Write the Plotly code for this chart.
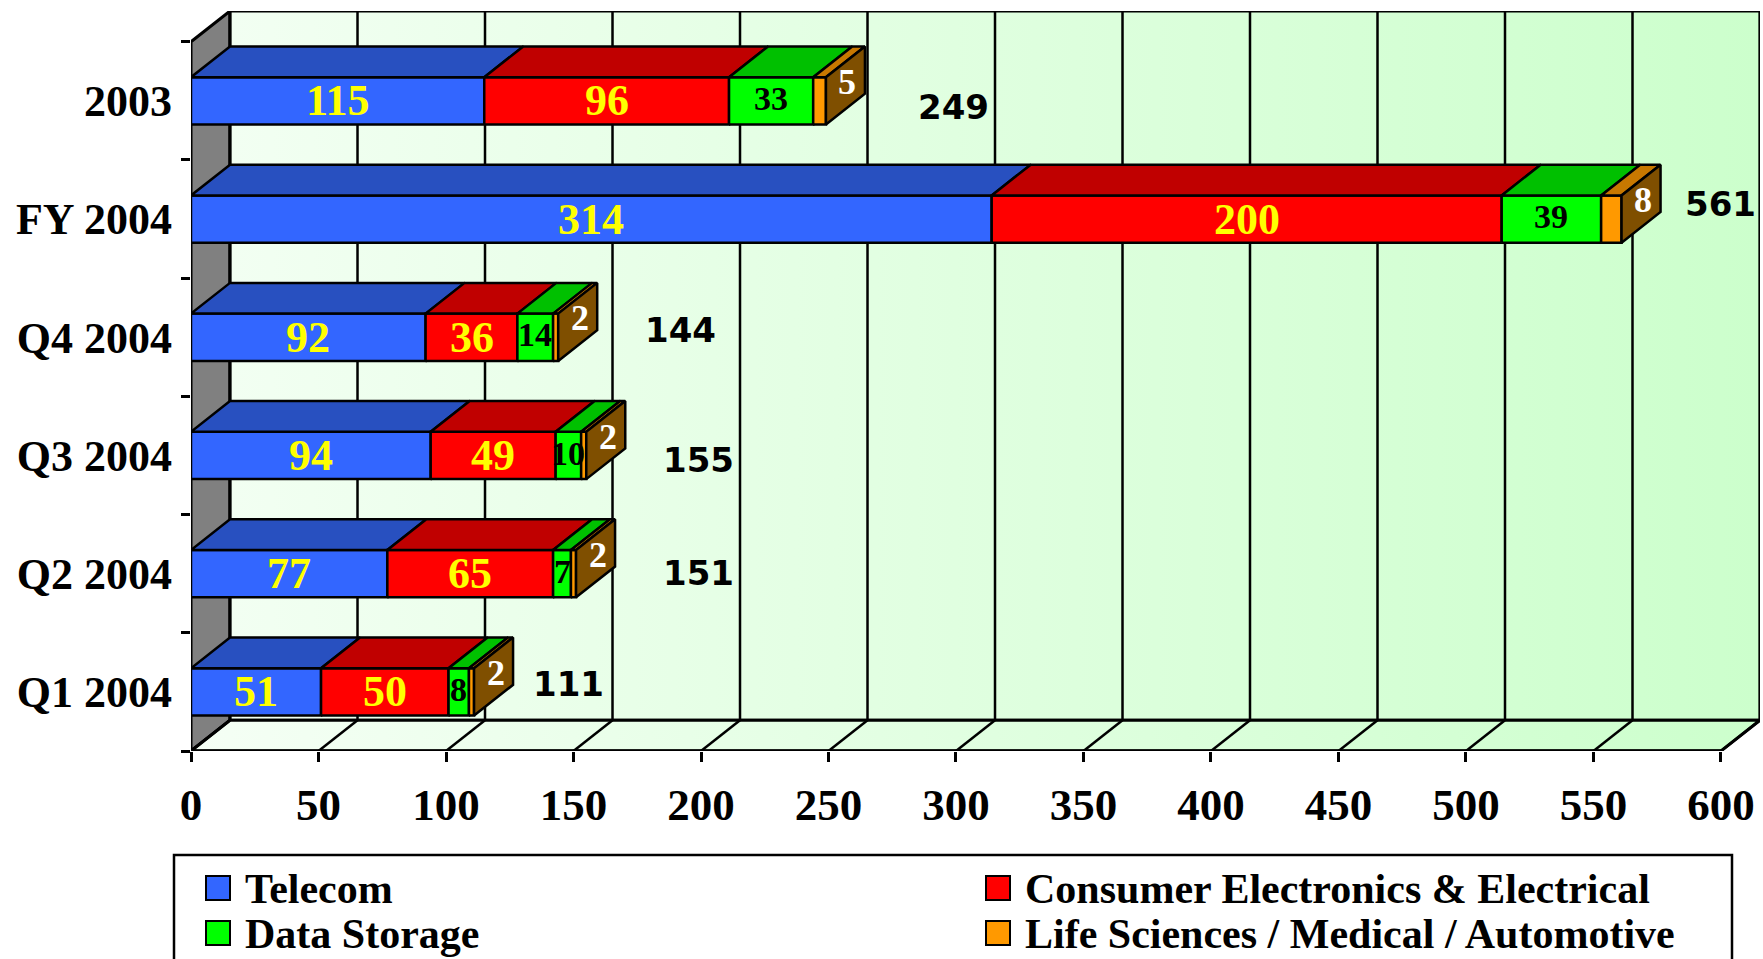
import plotly.graph_objects as go

# ---------------- data ----------------
categories = ["Q1 2004", "Q2 2004", "Q3 2004", "Q4 2004", "FY 2004", "2003"]
series_names = ["Telecom", "Consumer Electronics & Electrical",
                "Data Storage", "Life Sciences / Medical / Automotive"]
telecom = [51, 77, 94, 92, 314, 115]
consumer = [50, 65, 49, 36, 200, 96]
storage = [8, 7, 10, 14, 39, 33]
life = [2, 2, 2, 2, 8, 5]
totals = [111, 151, 155, 144, 561, 249]
x_ticks = [0, 50, 100, 150, 200, 250, 300, 350, 400, 450, 500, 550, 600]

# total label placement (offsets from bar end / centre)
total_dx = [37, 48, 44, 48, 39, 50]
total_dy = [0.07, 0.01, -0.04, 0.06, 0.13, -0.05]

# ---------------- style ----------------
W, HGT = 1763, 959
ML, MR, MT, MB = 191, 3, 11, 208
DX, DY, H = 15.3, 0.26, 0.2
XMAX = 600
n = len(categories)
Y0, Y1 = -0.5, n - 0.5

front_colors = ["#3366FF", "#FF0000", "#00FF00", "#FF9900"]
top_colors = ["#2850C0", "#C00000", "#00C000", "#C87800"]
side_color = "#7F4F00"
label_colors = ["#FFFF00", "#FFFF00", "black", "white"]
SERIF = "Liberation Serif"
SANS = "DejaVu Sans"

fig = go.Figure()


def poly(xs, ys, color=None, lw=2.5, grad=None):
    kw = dict(x=list(xs) + [xs[0]], y=list(ys) + [ys[0]], mode="lines",
              fill="toself", line=dict(color="black", width=lw),
              hoverinfo="skip", showlegend=False)
    if grad is not None:
        kw["fillgradient"] = grad
    else:
        kw["fillcolor"] = color
    fig.add_trace(go.Scatter(**kw))


# walls
poly([0, 0, DX, DX], [Y0, Y1, Y1 + DY, Y0 + DY], "#808080", lw=3)
poly([DX, XMAX + DX, XMAX + DX, DX], [Y0 + DY, Y0 + DY, Y1 + DY, Y1 + DY],
     lw=3, grad=dict(type="horizontal",
                     colorscale=[[0, "#F2FFF2"], [1, "#CCFFCC"]]))
poly([0, XMAX, XMAX + DX, DX], [Y0, Y0, Y0 + DY, Y0 + DY],
     lw=3, grad=dict(type="horizontal",
                     colorscale=[[0, "#F5FFF5"], [1, "#CCFFCC"]]))

# grid lines on back wall and floor
gx, gy = [], []
for v in x_ticks:
    gx += [v + DX, v + DX, None, v, v + DX, None]
    gy += [Y0 + DY, Y1 + DY, None, Y0, Y0 + DY, None]
fig.add_trace(go.Scatter(x=gx, y=gy, mode="lines",
                         line=dict(color="black", width=2.5),
                         hoverinfo="skip", showlegend=False))
# front floor edge
fig.add_trace(go.Scatter(x=[0, XMAX], y=[Y0, Y0], mode="lines",
                         line=dict(color="black", width=3.5),
                         hoverinfo="skip", showlegend=False))

# bars
series = [telecom, consumer, storage, life]
annotations = []
for c in range(n):
    s = 0
    for k, vals in enumerate(series):
        v = vals[c]
        e = s + v
        poly([s, e, e, s], [c - H, c - H, c + H, c + H], front_colors[k], lw=2.5)
        poly([s, e, e + DX, s + DX], [c + H, c + H, c + H + DY, c + H + DY],
             top_colors[k], lw=2.5)
        if k < 2:
            annotations.append(dict(x=(s + e) / 2, y=c, text=str(v), showarrow=False,
                                    font=dict(family=SERIF, size=44, color=label_colors[k],
                                              weight="bold"),
                                    xref="x", yref="y"))
        elif k == 2:
            annotations.append(dict(x=(s + e) / 2, y=c + 0.02, text=str(v), showarrow=False,
                                    font=dict(family=SERIF, size=34, color=label_colors[k],
                                              weight="bold"),
                                    xref="x", yref="y"))
        s = e
    # right side face
    poly([s, s + DX, s + DX, s], [c - H, c - H + DY, c + H + DY, c + H], side_color, lw=2.5)
    annotations.append(dict(x=s + DX * 0.55, y=c + 0.16, text=str(life[c]), showarrow=False,
                            font=dict(family=SERIF, size=36, color="white", weight="bold"),
                            xref="x", yref="y"))
    annotations.append(dict(x=totals[c] + total_dx[c], y=c + total_dy[c], text=str(totals[c]),
                            showarrow=False,
                            font=dict(family=SANS, size=34, color="black", weight="bold"),
                            xref="x", yref="y"))

# dummy trace for boundary-tick axis
fig.add_trace(go.Scatter(x=[0], y=[0], yaxis="y2", mode="markers",
                         marker=dict(opacity=0), hoverinfo="skip", showlegend=False))

# ---------------- manual legend ----------------
PW = W - ML - MR
PH = HGT - MT - MB


def px(x):
    return (x - ML) / PW


def py(y):
    return (HGT - MB - y) / PH


shapes = [dict(type="rect", xref="paper", yref="paper",
               x0=px(174), x1=px(1732), y0=py(985), y1=py(855),
               line=dict(color="black", width=2.5), fillcolor="white", layer="above")]
leg_pos = [(206, 888), (986, 888), (206, 933), (986, 933)]
for k, name in enumerate(series_names):
    lx, ly = leg_pos[k]
    shapes.append(dict(type="rect", xref="paper", yref="paper",
                       x0=px(lx), x1=px(lx + 24), y0=py(ly + 12), y1=py(ly - 12),
                       line=dict(color="black", width=2), fillcolor=front_colors[k],
                       layer="above"))
    annotations.append(dict(x=px(lx + 37), y=py(ly + 1), xref="paper", yref="paper",
                            text=name, showarrow=False, xanchor="left", yanchor="middle",
                            font=dict(family=SERIF, size=42, color="black", weight="bold")))

fig.update_layout(
    width=W, height=HGT, autosize=False,
    margin=dict(l=ML, r=MR, t=MT, b=MB, pad=0),
    paper_bgcolor="white", plot_bgcolor="rgba(0,0,0,0)",
    showlegend=False,
    xaxis=dict(range=[0, XMAX + DX], tickvals=x_ticks, ticktext=[str(t) for t in x_ticks],
               ticks="outside", ticklen=10, tickwidth=2.5, tickcolor="black",
               showgrid=False, zeroline=False, showline=False, ticklabelstandoff=4,
               tickfont=dict(family=SERIF, size=45, color="black", weight="bold"),
               fixedrange=True),
    yaxis=dict(range=[Y0, Y1 + DY], tickvals=list(range(n)), ticktext=categories,
               ticks="", showgrid=False, zeroline=False, showline=False,
               ticklabelstandoff=18,
               tickfont=dict(family=SERIF, size=44, color="black", weight="bold"),
               fixedrange=True),
    yaxis2=dict(range=[Y0, Y1 + DY], overlaying="y", anchor="x", side="left",
                tickvals=[i - 0.5 for i in range(n + 1)], ticks="outside", ticklen=9,
                tickwidth=2.5, tickcolor="black", showticklabels=False,
                showgrid=False, zeroline=False, showline=False, fixedrange=True),
    shapes=shapes,
    annotations=annotations,
)

fig.write_html("out.html", config={"displayModeBar": False})
